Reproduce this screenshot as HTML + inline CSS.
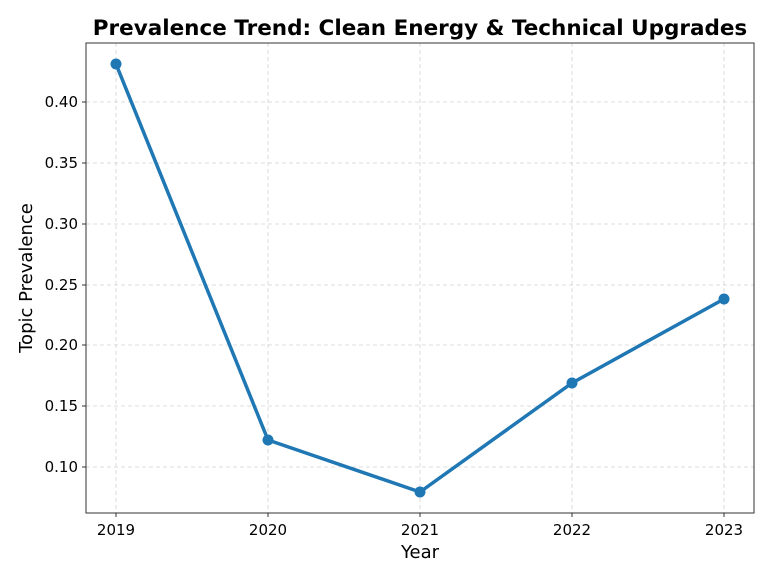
<!DOCTYPE html>
<html><head><style>body{margin:0;background:#fff}</style></head><body>
<svg width="768" height="571" xmlns="http://www.w3.org/2000/svg" font-family="DejaVu Sans, Liberation Sans, sans-serif">
<rect width="768" height="571" fill="#fff"/>
<g stroke="#d3d3d3" stroke-width="0.8" stroke-dasharray="4,3">
<line x1="116" y1="43" x2="116" y2="513"/><line x1="268" y1="43" x2="268" y2="513"/><line x1="420" y1="43" x2="420" y2="513"/><line x1="572" y1="43" x2="572" y2="513"/><line x1="724" y1="43" x2="724" y2="513"/>
<line x1="86" y1="102" x2="754" y2="102"/><line x1="86" y1="163" x2="754" y2="163"/><line x1="86" y1="224" x2="754" y2="224"/><line x1="86" y1="285" x2="754" y2="285"/><line x1="86" y1="345" x2="754" y2="345"/><line x1="86" y1="406" x2="754" y2="406"/><line x1="86" y1="467" x2="754" y2="467"/>
</g>
<rect x="86" y="43" width="668" height="470" fill="none" stroke="#333" stroke-width="1"/>
<g stroke="#333" stroke-width="1">
<line x1="82" y1="102" x2="86" y2="102"/><line x1="82" y1="163" x2="86" y2="163"/><line x1="82" y1="224" x2="86" y2="224"/><line x1="82" y1="285" x2="86" y2="285"/><line x1="82" y1="345" x2="86" y2="345"/><line x1="82" y1="406" x2="86" y2="406"/><line x1="82" y1="467" x2="86" y2="467"/>
<line x1="116" y1="513" x2="116" y2="517"/><line x1="268" y1="513" x2="268" y2="517"/><line x1="420" y1="513" x2="420" y2="517"/><line x1="572" y1="513" x2="572" y2="517"/><line x1="724" y1="513" x2="724" y2="517"/>
</g>
<g font-size="15" fill="#000" text-anchor="end">
<text x="78" y="107">0.40</text><text x="78" y="168">0.35</text><text x="78" y="229">0.30</text><text x="78" y="290">0.25</text><text x="78" y="350">0.20</text><text x="78" y="411">0.15</text><text x="78" y="472">0.10</text>
</g>
<g font-size="15" fill="#000" text-anchor="middle">
<text x="116" y="535">2019</text><text x="268" y="535">2020</text><text x="420" y="535">2021</text><text x="572" y="535">2022</text><text x="724" y="535">2023</text>
</g>
<text x="420" y="558" font-size="18" text-anchor="middle">Year</text>
<text transform="translate(32,278) rotate(-90)" font-size="18" text-anchor="middle">Topic Prevalence</text>
<text x="420" y="35" font-size="21.5" font-weight="bold" text-anchor="middle">Prevalence Trend: Clean Energy &amp; Technical Upgrades</text>
<polyline points="116,64 268,440 420,492 572,383 724,299" fill="none" stroke="#1f77b4" stroke-width="3.5" stroke-linejoin="round"/>
<g fill="#1f77b4"><circle cx="116" cy="64" r="5.5"/><circle cx="268" cy="440" r="5.5"/><circle cx="420" cy="492" r="5.5"/><circle cx="572" cy="383" r="5.5"/><circle cx="724" cy="299" r="5.5"/></g>
</svg>
</body></html>
